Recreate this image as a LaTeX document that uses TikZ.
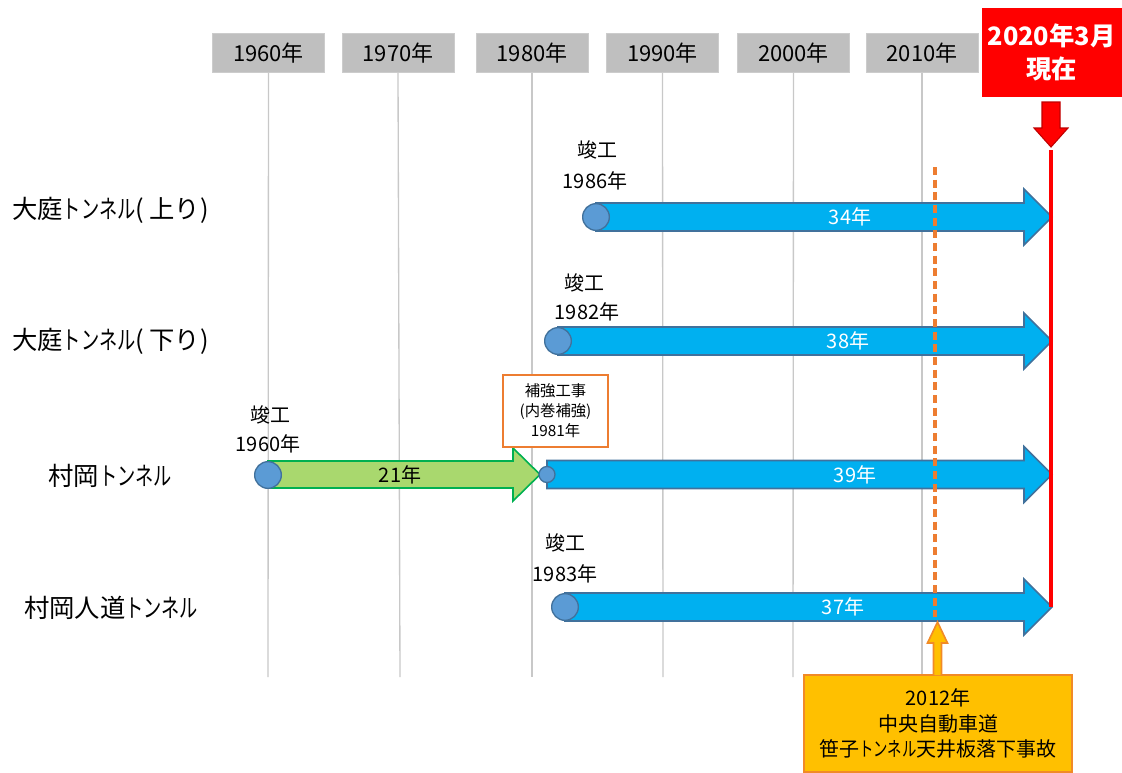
\documentclass[tikz,border=0pt]{standalone}
\usepackage{fontspec}
\setmainfont{Noto Sans CJK JP}
\definecolor{hdr}{HTML}{BFBFBF}
\definecolor{barblue}{HTML}{00B0F0}
\definecolor{barline}{HTML}{41719C}
\definecolor{dotblue}{HTML}{5B9BD5}
\definecolor{grn}{HTML}{A9D86E}
\definecolor{grnline}{HTML}{00B050}
\definecolor{org}{HTML}{ED7D31}
\definecolor{gold}{HTML}{FFC000}
\definecolor{vline}{HTML}{C8C8C8}
\newcommand{\tnl}{\scalebox{0.72}[1]{トンネル}}
\begin{document}
\begin{tikzpicture}[x=0.75pt,y=-0.75pt,
  hdrbox/.style={fill=hdr,draw=hdr!80!white,minimum width=84pt,minimum height=29pt,inner sep=0pt,font=\fontsize{16.5}{18}\selectfont},
  gridline/.style={draw=vline,line width=1pt},
  rowlabel/.style={font=\fontsize{19}{22}\selectfont,inner sep=0pt},
  ann/.style={font=\fontsize{15}{17}\selectfont,inner sep=0pt},
  barlabel/.style={font=\fontsize{15}{17}\selectfont,text=white,inner sep=0pt},
  bluearr/.style={fill=barblue,draw=barline,line width=1.2pt,line join=miter},
  greenarr/.style={fill=grn,draw=grnline,line width=1.2pt,line join=miter},
  dot/.style={circle,fill=dotblue,draw=barline,line width=1pt,minimum size=20pt,inner sep=0pt},
  smalldot/.style={circle,fill=dotblue,draw=barline,line width=1pt,minimum size=12pt,inner sep=0pt}]
\useasboundingbox (0,0) rectangle (1122,772);

% headers
\node[hdrbox] (h1960) at (268.5,53) {1960年};
\node[hdrbox] (h1970) at (398,53) {1970年};
\node[hdrbox] (h1980) at (532,53) {1980年};
\node[hdrbox] (h1990) at (662.5,53) {1990年};
\node[hdrbox] (h2000) at (793.5,53) {2000年};
\node[hdrbox] (h2010) at (922,53) {2010年};
\node[fill=red,minimum width=105pt,minimum height=67pt,inner sep=0pt,align=center,text=white,
  font=\fontsize{19}{25}\selectfont\bfseries] (now) at (1051.5,52.5) {2020年3月\\現在};

% grid lines
\foreach \n/\x in {1960/268,1970/400,1980/532,1990/663,2000/793,2010/922}{
  \coordinate (b\n) at (\x,677);
  \draw[gridline] (h\n.south) -- (b\n);
}

% row labels
\node[rowlabel,anchor=west] (r1) at (12,210) {大庭\tnl(\hspace{4pt}上り)};
\node[rowlabel,anchor=west] (r2) at (12,341) {大庭\tnl(\hspace{4pt}下り)};
\node[rowlabel] (r3) at (110,476) {村岡\tnl};
\node[rowlabel] (r4) at (111,608) {村岡人道\tnl};

% row 1
\draw[bluearr] (596,203) -- (1024,203) -- (1024,189) -- (1052,217) -- (1024,245) -- (1024,231) -- (596,231) -- cycle;
\node[dot] (d1) at (596,217) {};
\node[barlabel] (t1) at (850,217) {34年};
\node[ann] (c1a) at (597,150) {竣工};
\node[ann] (c1b) at (595,181) {1986年};

% row 2
\draw[bluearr] (558,327) -- (1024,327) -- (1024,313) -- (1052,341) -- (1024,369) -- (1024,355) -- (558,355) -- cycle;
\node[dot] (d2) at (558,341) {};
\node[barlabel] (t2) at (848,341) {38年};
\node[ann] (c2a) at (584,283) {竣工};
\node[ann] (c2b) at (587,312) {1982年};

% row 3
\draw[greenarr] (268,461) -- (513,461) -- (513,448) -- (540,474.5) -- (513,501) -- (513,488) -- (268,488) -- cycle;
\node[dot] (d3) at (268,475) {};
\node[ann] (t3g) at (400,475) {21年};
\draw[bluearr] (547,460.5) -- (1024,460.5) -- (1024,446.5) -- (1052,474.5) -- (1024,502.5) -- (1024,488.5) -- (547,488.5) -- cycle;
\node[smalldot] (d3b) at (547,474.5) {};
\node[barlabel] (t3) at (855,474.5) {39年};
\node[ann] (c3a) at (270,415) {竣工};
\node[ann] (c3b) at (268,444) {1960年};
\node[draw=org,fill=white,line width=1.1pt,minimum width=79pt,minimum height=54pt,inner sep=0pt,align=center,
  font=\fontsize{11.5}{15}\selectfont] (rb) at (555.5,411) {補強工事\\(内巻補強)\\1981年};

% row 4
\draw[bluearr] (565,593) -- (1024,593) -- (1024,579) -- (1052,607) -- (1024,635) -- (1024,621) -- (565,621) -- cycle;
\node[dot] (d4) at (565,607) {};
\node[barlabel] (t4) at (843,607) {37年};
\node[ann] (c4a) at (565,543) {竣工};
\node[ann] (c4b) at (565,574) {1983年};

% red current line and arrow
\coordinate (ntop) at (1051,150);
\coordinate (nbot) at (1051,607);
\draw[red,line width=2.6pt] (ntop) -- (nbot);
\draw[fill=red,draw=red!75!black,line width=0.8pt,line join=miter] (1042,102) -- (1060,102) -- (1060,128) -- (1068,128) -- (1051,147) -- (1034,128) -- (1042,128) -- cycle;

% orange dashed line (2012)
\coordinate (dtop) at (935,167);
\coordinate (dbot) at (935,617);
\draw[org,line width=2.4pt,dash pattern=on 6pt off 3.5pt] (dtop) -- (dbot);

% accident box with arrow
\node[fill=gold,draw=org!80!gold,line width=1.2pt,minimum width=201pt,minimum height=73pt,inner sep=0pt,align=center,
  font=\fontsize{15}{19}\selectfont] (acc) at (938,723.5) {2012年\\中央自動車道\\笹子\tnl 天井板落下事故};
\draw[fill=gold,draw=org!80!gold,line width=1.2pt,line join=miter] (933.5,675) -- (933.5,643) -- (927.5,643) -- (937.5,622) -- (947.5,643) -- (941.5,643) -- (941.5,675);
\end{tikzpicture}
\end{document}
